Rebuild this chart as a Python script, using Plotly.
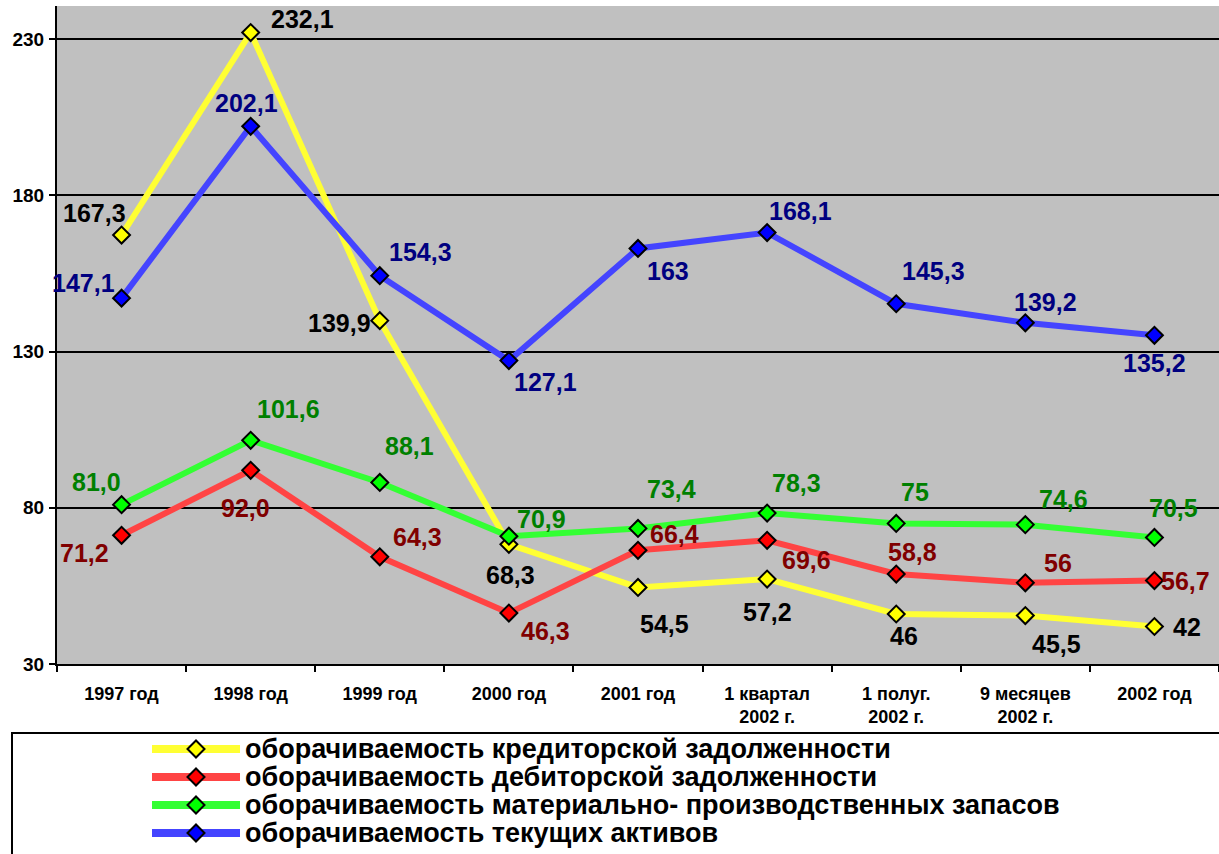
import plotly.graph_objects as go

# ---------------- data ----------------
categories = ["1997 год", "1998 год", "1999 год", "2000 год", "2001 год",
              "1 квартал<br>2002 г.", "1 полуг.<br>2002 г.", "9 месяцев<br>2002 г.", "2002 год"]

series_names = [
    "оборачиваемость кредиторской задолженности",
    "оборачиваемость дебиторской задолженности",
    "оборачиваемость материально- производственных запасов",
    "оборачиваемость текущих активов",
]

creditor = [167.3, 232.1, 139.9, 68.3, 54.5, 57.2, 46, 45.5, 42]
debtor = [71.2, 92.0, 64.3, 46.3, 66.4, 69.6, 58.8, 56, 56.7]
inventory = [81.0, 101.6, 88.1, 70.9, 73.4, 78.3, 75, 74.6, 70.5]
current = [147.1, 202.1, 154.3, 127.1, 163, 168.1, 145.3, 139.2, 135.2]

creditor_labels = ["167,3", "232,1", "139,9", "68,3", "54,5", "57,2", "46", "45,5", "42"]
debtor_labels = ["71,2", "92,0", "64,3", "46,3", "66,4", "69,6", "58,8", "56", "56,7"]
inventory_labels = ["81,0", "101,6", "88,1", "70,9", "73,4", "78,3", "75", "74,6", "70,5"]
current_labels = ["147,1", "202,1", "154,3", "127,1", "163", "168,1", "145,3", "139,2", "135,2"]

y_ticks = [30, 80, 130, 180, 230]

# ---------------- styles / label offsets (pixels) ----------------
line_colors = ["#FFFF33", "#FF4444", "#33FF33", "#4444FF"]
marker_colors = ["#FFFF00", "#FF0000", "#00FF00", "#0000FF"]
label_colors = ["#000000", "#800000", "#008000", "#000080"]

creditor_off = [(-27, 22), (52, 14), (-40, -2), (2, -31), (26, -37), (0, -33), (8, -22), (31, -28), (33, 0)]
debtor_off = [(-37, -18), (-5, -38), (38, 20), (37, -18), (36, 16), (39, -20), (16, 22), (33, 20), (31, 0)]
inventory_off = [(-25, 23), (38, 31), (30, 36), (33, 17), (33, 39), (29, 30), (19, 31), (38, 26), (19, 29)]
current_off = [(-38, 15), (-4, 23), (41, 24), (37, -21), (30, -23), (33, 22), (37, 33), (20, 21), (0, -28)]

all_values = [creditor, debtor, inventory, current]
all_labels = [creditor_labels, debtor_labels, inventory_labels, current_labels]
all_offsets = [creditor_off, debtor_off, inventory_off, current_off]

W, H = 1219, 854
ML, MR, MT, MB = 57, 0, 6, 190
PW, PH = W - ML - MR, H - MT - MB

label_font = "Liberation Sans, Arial, sans-serif"
main_font = "Liberation Sans, Arial, sans-serif"

fig = go.Figure()
for name, vals, lc, mc in zip(series_names, all_values, line_colors, marker_colors):
    fig.add_trace(go.Scatter(
        x=categories, y=vals, name=name, mode="lines+markers",
        line=dict(color=lc, width=6),
        marker=dict(symbol="diamond", size=13, color=mc, line=dict(color="black", width=2)),
        showlegend=False, cliponaxis=False,
    ))

annotations = []
for vals, labs, offs, col in zip(all_values, all_labels, all_offsets, label_colors):
    for cat, v, lab, (dx, dy) in zip(categories, vals, labs, offs):
        annotations.append(dict(
            x=cat, y=v, xref="x", yref="y", text=lab, showarrow=False,
            xanchor="center", yanchor="middle", xshift=dx, yshift=dy,
            font=dict(family=label_font, size=25, color=col, weight="bold"),
        ))

# ---------------- custom legend ----------------
def px_x(px):
    return (px - ML) / PW

def px_y(py):
    return (H - MB - py) / PH

shapes = [dict(type="rect", xref="paper", yref="paper",
               x0=px_x(12), x1=px_x(1230), y0=px_y(733), y1=px_y(870),
               line=dict(color="black", width=2), fillcolor="white", layer="below")]

row_y = [749, 777, 805, 833]
for name, lc, mc, ry in zip(series_names, line_colors, marker_colors, row_y):
    shapes.append(dict(type="line", xref="paper", yref="paper",
                       x0=px_x(152), x1=px_x(240), y0=px_y(ry), y1=px_y(ry),
                       line=dict(color=lc, width=8)))
    cx, r = 196, 8.5
    path = (f"M {px_x(cx - r)} {px_y(ry)} L {px_x(cx)} {px_y(ry - r)} "
            f"L {px_x(cx + r)} {px_y(ry)} L {px_x(cx)} {px_y(ry + r)} Z")
    shapes.append(dict(type="path", xref="paper", yref="paper", path=path,
                       fillcolor=mc, line=dict(color="black", width=2)))
    annotations.append(dict(
        x=px_x(243), y=px_y(ry), xref="paper", yref="paper", text=name, showarrow=False,
        xanchor="left", yanchor="middle",
        font=dict(family=main_font, size=27, color="black", weight="bold"),
    ))

fig.update_layout(
    width=W, height=H,
    margin=dict(l=ML, r=MR, t=MT, b=MB),
    paper_bgcolor="white", plot_bgcolor="#C0C0C0",
    annotations=annotations, shapes=shapes,
    font=dict(family=main_font, color="black"),
    showlegend=False,
)
fig.update_xaxes(
    type="category", showgrid=False, showline=True, linecolor="black", linewidth=2,
    ticks="outside", ticklen=6, tickwidth=2, tickcolor="black", tickson="boundaries",
    tickfont=dict(family=main_font, size=18, color="black", weight="bold"),
    ticklabelstandoff=12, range=[-0.5, len(categories) - 0.5],
)
fig.update_yaxes(
    range=[30, 240.6], tickvals=y_ticks, showgrid=True, gridcolor="black", gridwidth=2,
    showline=True, linecolor="black", linewidth=2, zeroline=False,
    ticks="outside", ticklen=6, tickwidth=2, tickcolor="black",
    tickfont=dict(family=main_font, size=19, color="black", weight="bold"),
    ticklabelstandoff=1,
)

fig.write_html("out.html", config={"displayModeBar": False},
               post_script="document.body.style.margin='0';")
